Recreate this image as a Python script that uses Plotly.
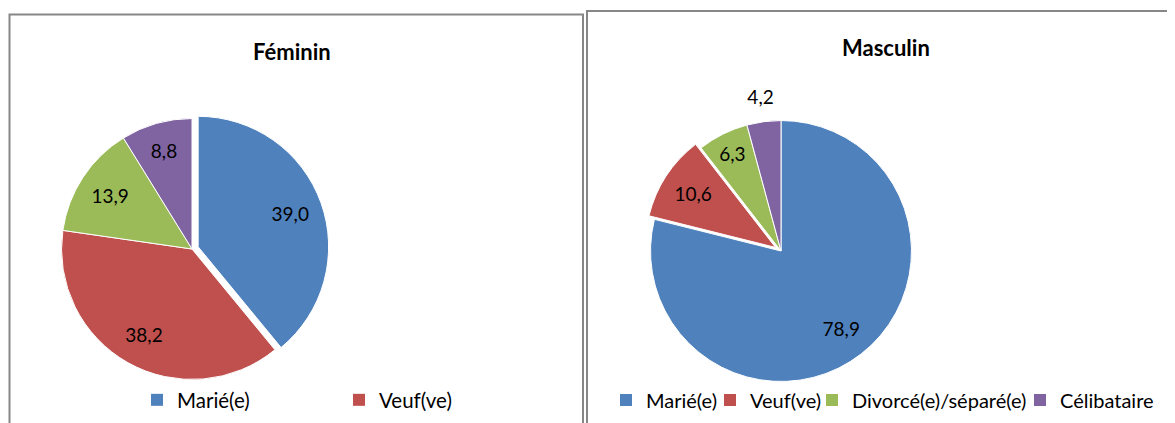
import plotly.graph_objects as go

# ---- data ----
categories = ["Marié(e)", "Veuf(ve)", "Divorcé(e)/séparé(e)", "Célibataire"]
feminin_values = [39.0, 38.2, 13.9, 8.8]
masculin_values = [78.9, 10.6, 6.3, 4.2]
feminin_legend_items = ["Marié(e)", "Veuf(ve)"]
masculin_legend_items = ["Marié(e)", "Veuf(ve)", "Divorcé(e)/séparé(e)", "Célibataire"]
titles = ["Féminin", "Masculin"]

colors = ["#4F81BD", "#C0504D", "#9BBB59", "#8064A2"]
feminin_pull = [0.05, 0, 0, 0]
masculin_pull = [0, 0.05, 0, 0]

W, H = 1175, 423
OFF = 8  # default page margin of the html body
FONT = "Lato"


def fx(v):
    return (v - OFF) / W


def fy(v):
    return 1 - (v - OFF) / H


def dom(cx, cy, half):
    return dict(x=[fx(cx - half), fx(cx + half)], y=[fy(cy + half), fy(cy - half)])


left_dom = dom(192, 249, 137)
right_dom = dom(781, 251, 137)
right_outer_dom = dom(781, 251, 176)

fig = go.Figure()
label_fmt = "%{value:.1f}"


def label_ring(values, pull, d, hole, show):
    # transparent ring that only carries data labels
    fig.add_trace(go.Pie(
        labels=categories, values=values, sort=False, direction="clockwise", rotation=0,
        pull=pull, domain=d, hole=hole,
        marker=dict(colors=["rgba(0,0,0,0)"] * 4, line=dict(width=0)),
        texttemplate=[label_fmt if t else "" for t in show], textposition="inside",
        insidetextorientation="horizontal",
        textfont=dict(family=FONT, size=19, color="black"),
        showlegend=False, hoverinfo="skip",
    ))


def add_pie(values, pull, d):
    fig.add_trace(go.Pie(
        labels=categories, values=values, sort=False, direction="clockwise", rotation=0,
        pull=pull, domain=d, marker=dict(colors=colors, line=dict(color="white", width=1)),
        textinfo="none", showlegend=False, hoverinfo="label+value",
    ))


add_pie(feminin_values, feminin_pull, left_dom)
label_ring(feminin_values, feminin_pull, left_dom, 0.5, [True, True, True, True])

add_pie(masculin_values, masculin_pull, right_dom)
label_ring(masculin_values, masculin_pull, right_dom, 0.5, [True, True, True, False])
# outer ring: the small last slice has its label outside the pie
label_ring(masculin_values, [0, 0, 0, 0], right_outer_dom, 0.7, [False, False, False, True])

# left legend (only two entries visible in the original)
for name in feminin_legend_items:
    i = categories.index(name)
    fig.add_trace(go.Scatter(
        x=[None], y=[None], mode="markers", name=name, legend="legend",
        marker=dict(symbol="square", size=12, color=colors[i]), showlegend=True,
    ))

# right legend: one entry per legend box
right_text_starts = [646, 750, 852, 1060]
legend_layouts = {}
for k, name in enumerate(masculin_legend_items):
    i = categories.index(name)
    lname = "legend%d" % (k + 2)
    fig.add_trace(go.Scatter(
        x=[None], y=[None], mode="markers", name=name, legend=lname,
        marker=dict(symbol="square", size=12, color=colors[i]), showlegend=True,
    ))
    legend_layouts[lname] = dict(
        orientation="h", x=fx(right_text_starts[k] - 40), xanchor="left", y=fy(400), yanchor="middle",
        font=dict(family=FONT, size=20, color="black"), bgcolor="rgba(0,0,0,0)")

fig.update_layout(
    width=W, height=H,
    margin=dict(l=0, r=0, t=0, b=0),
    paper_bgcolor="white", plot_bgcolor="rgba(0,0,0,0)",
    separators=", ",
    font=dict(family=FONT, color="black"),
    xaxis=dict(visible=False), yaxis=dict(visible=False),
    legend=dict(orientation="h", x=fx(137), xanchor="left", y=fy(400), yanchor="middle",
                entrywidth=157, entrywidthmode="pixels",
                font=dict(family=FONT, size=20.5, color="black"), bgcolor="rgba(0,0,0,0)"),
    showlegend=True,
    shapes=[
        dict(type="rect", xref="paper", yref="paper", x0=fx(9.5), x1=fx(583), y0=-0.2, y1=fy(14.5),
             line=dict(color="#878787", width=2)),
        dict(type="rect", xref="paper", yref="paper", x0=fx(587), x1=1.05, y0=-0.2, y1=fy(11),
             line=dict(color="#878787", width=2)),
    ],
    annotations=[
        dict(text="<b>%s</b>" % titles[0], x=fx(292), y=fy(51), xref="paper", yref="paper",
             xanchor="center", yanchor="middle", showarrow=False,
             font=dict(family=FONT, size=22, color="black")),
        dict(text="<b>%s</b>" % titles[1], x=fx(886), y=fy(47), xref="paper", yref="paper",
             xanchor="center", yanchor="middle", showarrow=False,
             font=dict(family=FONT, size=22, color="black")),
    ],
)
fig.update_layout(**legend_layouts)

fig.write_html("out.html")
